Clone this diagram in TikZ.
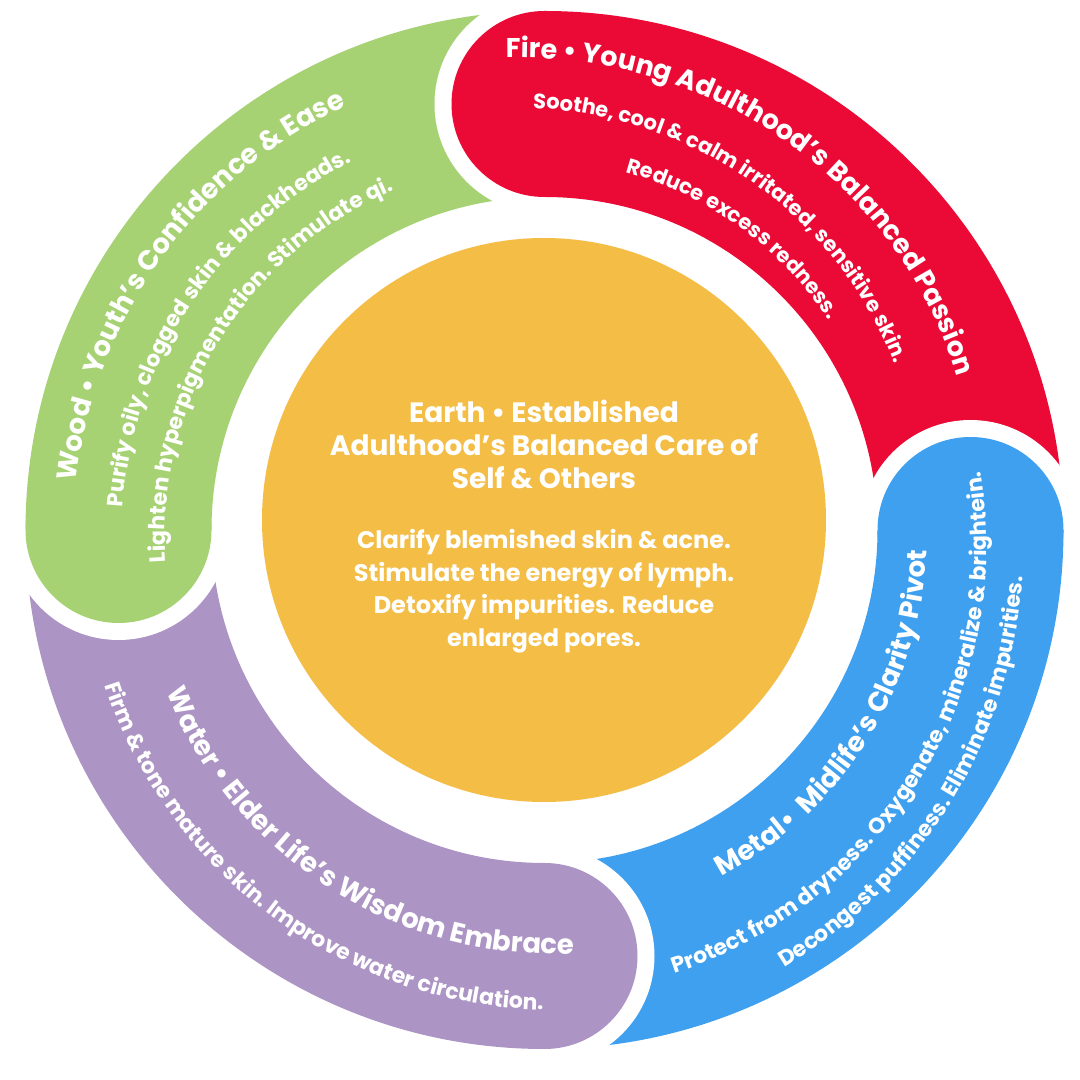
\documentclass[tikz,border=0pt]{standalone}
\usepackage{fontspec}
\setmainfont{Poppins}
\usetikzlibrary{decorations.text}
\definecolor{woodc}{HTML}{A6D274}
\definecolor{firec}{HTML}{EB0A36}
\definecolor{metalc}{HTML}{3EA0EE}
\definecolor{waterc}{HTML}{AC94C4}
\definecolor{earthc}{HTML}{F3BD46}
\newcommand\ringseg[3]{%
  \fill[#1] (#2:519) arc[start angle=#2, end angle=#3, radius=519] -- (#3:333) arc[start angle=#3, end angle=#2, radius=333] -- cycle;}
\newcommand\ringhead[2]{%
  \fill[white] (#2:426) ++(#2:110) arc[start angle=#2, end angle=#2+180, radius=110] -- cycle;
  \fill[#1] (#2:426) circle[radius=93];}
\newcommand\ringtext[6]{%
  \path[decorate, decoration={text along path, text align=center,
    text={|\bfseries\fontsize{#5}{#5}\selectfont\color{white}|#6}}]
    plot[domain=-0.3:1.3, samples=80, variable=\t]
    ({((#3)+((#4)-(#3))*\t)*cos((#1)+((#2)-(#1))*\t)}, {((#3)+((#4)-(#3))*\t)*sin((#1)+((#2)-(#1))*\t)});}
\tikzset{
  ctitle/.style={anchor=base, text=white, inner sep=0, font=\bfseries\fontsize{28}{28}\selectfont},
  cbody/.style={anchor=base, text=white, inner sep=0, font=\bfseries\fontsize{24}{24}\selectfont}
}
\begin{document}
\begin{tikzpicture}[x=1pt,y=1pt]
\useasboundingbox (0,0) rectangle (1080,1080);
\fill[white] (0,0) rectangle (1080,1080);
\begin{scope}[shift={(544.5,550)}]
  \ringseg{firec}{0}{90}
  \ringseg{woodc}{90}{180}
  \ringseg{waterc}{180}{270}
  \ringseg{metalc}{270}{360}
  \ringhead{firec}{90}
  \ringhead{woodc}{180}
  \ringhead{waterc}{270}
  \ringhead{metalc}{0}
  % Fire
  \ringtext{94.5}{18.3}{473.5}{439.7}{27}{Fire • Young Adulthood’s Balanced Passion}
  \ringtext{91.5}{22.9}{422}{386}{21}{Soothe, cool {\&} calm irritated, sensitive skin.}
  \ringtext{77}{36}{367}{353}{21}{Reduce excess redness.}
  % Wood
  \ringtext{173.8}{115.2}{470.6}{468}{27.5}{Wood • Youth’s Confidence {\&} Ease}
  \ringtext{178.6}{115.4}{422.6}{415.3}{22}{Purify oily, clogged skin {\&} blackheads.}
  \ringtext{187.1}{110.7}{380.4}{370.9}{22}{Lighten hyperpigmentation. Stimulate qi.}
  % Metal
  \ringtext{-64.4}{-1}{389.4}{382.6}{27.5}{Metal•{\ }{\ }Midlife’s Clarity Pivot}
  \ringtext{-74.3}{10.1}{462.4}{439.3}{22}{Protect from dryness. Oxygenate, mineralize {\&} brightein.}
  \ringtext{-61}{-5}{499}{480}{22}{Decongest puffiness. Eliminate impurities.}
  % Water
  \ringtext{200.7}{275.5}{411}{425}{27.5}{Water • Elder Life’s Wisdom Embrace}
  \ringtext{198.8}{269.7}{466}{480}{22}{Firm {\&} tone mature skin. Improve water circulation.}
\end{scope}
\node[circle, fill=earthc, minimum size=564, inner sep=0] (earth) at (544,560) {};
\node[ctitle] (et1) at (544,657) {Earth • Established};
\node[ctitle] (et2) at (544,624) {Adulthood’s Balanced Care of};
\node[ctitle] (et3) at (544,591) {Self \& Others};
\node[cbody] (eb1) at (544,531) {Clarify blemished skin \& acne.};
\node[cbody] (eb2) at (544,498) {Stimulate the energy of lymph.};
\node[cbody] (eb3) at (544,466) {Detoxify impurities. Reduce};
\node[cbody] (eb4) at (544,433) {enlarged pores.};
\end{tikzpicture}
\end{document}
